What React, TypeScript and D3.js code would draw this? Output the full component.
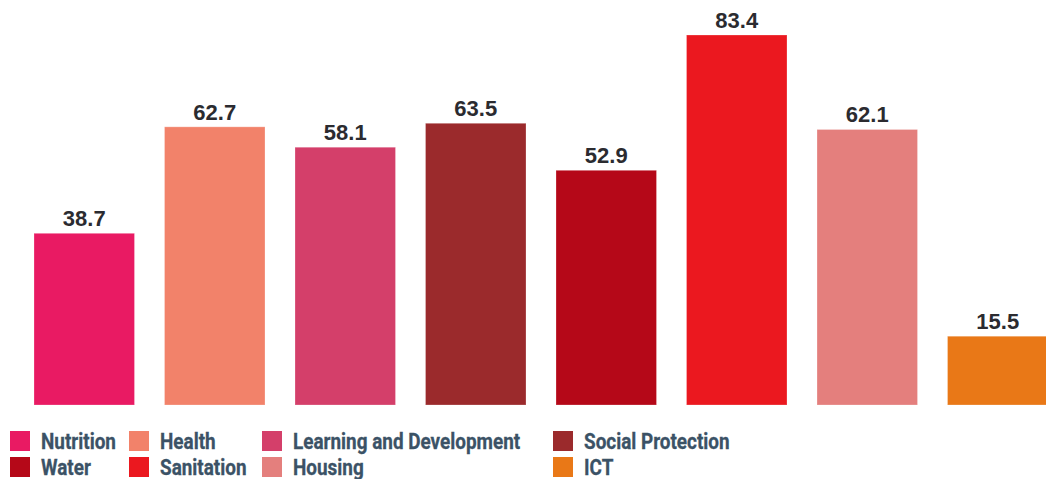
import React from 'react';
import * as d3 from 'd3';

const categories = ['Nutrition', 'Health', 'Learning and Development', 'Social Protection', 'Water', 'Sanitation', 'Housing', 'ICT'];
const values = [38.7, 62.7, 58.1, 63.5, 52.9, 83.4, 62.1, 15.5];
const colors = ['#e91a63', '#f2826a', '#d43f6a', '#9b2a2c', '#b50818', '#eb181f', '#e47f7d', '#e97817'];

// legend is laid out in 4 columns, row-major
const legendCols = [10, 129, 262, 553];

const W = 1046;
const H = 479;

export default function App() {
  const x = d3.scaleBand<string>()
    .domain(categories)
    .range([34, 1048])
    .paddingInner(0.23)
    .paddingOuter(0);
  const y = d3.scaleLinear().domain([0, 83.4]).range([405, 35]);

  const labelFont = '"Liberation Sans", Arial, Helvetica, sans-serif';
  const legendFont = 'Roboto, "Liberation Sans", sans-serif';

  return (
    <div style={{ position: 'absolute', left: 0, top: 0 }}>
      <svg width={W} height={H} style={{ display: 'block' }}>
        {categories.map((c, i) => {
          const bx = x(c) ?? 0;
          const by = y(values[i]);
          return (
            <g key={c}>
              <rect
                x={bx} y={by}
                width={x.bandwidth()} height={y(0) - by}
                fill={colors[i]}
                stroke="#fff" strokeOpacity={0.25} strokeWidth={1}
              />
              <text
                x={bx + x.bandwidth() / 2} y={by - 7}
                textAnchor="middle"
                fontFamily={labelFont}
                fontWeight={700}
                fontSize={22}
                fill="#2b2b30"
              >
                {values[i].toFixed(1)}
              </text>
            </g>
          );
        })}

        {categories.map((c, i) => {
          const col = i % 4;
          const row = Math.floor(i / 4);
          const lx = legendCols[col];
          const ly = 431 + row * 26;
          return (
            <g key={'lg-' + c} transform={`translate(${lx},${ly})`}>
              <rect x={0} y={0} width={20} height={20} fill={colors[i]} />
              {/* condensed look: squeeze the bold face horizontally */}
              <text
                transform="translate(31,18) scale(0.86,1)"
                fontFamily={legendFont}
                fontWeight={700}
                fontSize={22}
                fill="#3b5266"
                stroke="#3b5266"
                strokeWidth={0.3}
              >
                {c}
              </text>
            </g>
          );
        })}
      </svg>
    </div>
  );
}
